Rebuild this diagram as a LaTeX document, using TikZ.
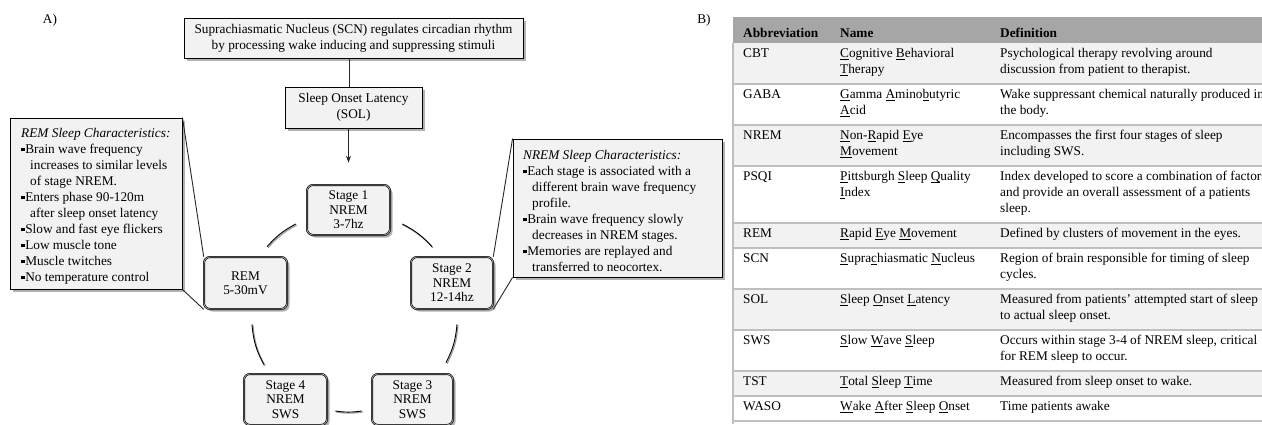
\documentclass[tikz,border=0pt]{standalone}
\usepackage{fontspec}
\setmainfont{Liberation Serif}
\usetikzlibrary{shadows,arrows.meta,calc}
\definecolor{boxfill}{HTML}{F2F2F2}
\definecolor{hdrfill}{HTML}{A6A6A6}
\definecolor{sepgray}{HTML}{BFBFBF}
\newcommand\fsz{\fontsize{13.3}{16}\selectfont}
\newcommand\fst{\fontsize{13.3}{14.5}\selectfont}
\newcommand\ulc[1]{\leavevmode\setbox0\hbox{#1}\rlap{\rule[-2.8pt]{\wd0}{1.3pt}}\box0\relax}
\newcommand\bul{\raisebox{2.3pt}{\rule{3.3pt}{3.3pt}}\hspace{0.8pt}}
\newcommand\ind{\hspace*{9pt}}
\tikzset{
  sqbox/.style={draw=black, line width=0.9pt, fill=boxfill, inner sep=0pt, align=center, font=\fsz,
     drop shadow={shadow xshift=2.5pt, shadow yshift=-2.5pt, fill=black!60}},
  stagebox/.style={draw=black, line width=0.6pt, double=black!35, double distance=0.8pt, fill=boxfill,
     rounded corners=6pt, inner sep=0pt, align=center, font=\fst,
     drop shadow={shadow xshift=2.5pt, shadow yshift=-2.5pt, fill=black!60}},
  txt/.style={anchor=north west, inner sep=0pt, align=left, font=\fsz},
  lbl/.style={inner sep=0pt, font=\fsz},
  link/.style={draw=black!85, line width=0.9pt},
  cyc/.style={draw=black, line width=0.9pt, preaction={draw=black!40, line width=1.2pt, transform canvas={shift={(1pt,-1pt)}}}},
}
\begin{document}
\begin{tikzpicture}[x=1pt,y=-1pt]
\useasboundingbox (0,0) rectangle (1262,424);
\begin{scope}
\clip (0,0) rectangle (1262,424);
% labels
\node[lbl] (labA) at (50,20) {A)};
\node[lbl] (labB) at (704,20) {B)};
% flow
\node[sqbox, minimum width=339pt, minimum height=40pt] (scn) at (353.5,38) {Suprachiasmatic Nucleus (SCN) regulates circadian rhythm\\by processing wake inducing and suppressing stimuli};
\node[sqbox, minimum width=137pt, minimum height=41pt] (sol) at (353.5,107.5) {Sleep Onset Latency\\(SOL)};
\draw[link] (scn.south -| 349.5,0) -- (sol.north -| 349.5,0);
% callout boxes
\node[sqbox, minimum width=172pt, minimum height=171pt] (remc) at (96,203.5) {};
\node[sqbox, minimum width=209pt, minimum height=138pt] (nremc) at (617.5,208) {};
% stages
\node[stagebox, minimum width=83pt, minimum height=50pt] (s1) at (348.5,210) {Stage 1\\NREM\\3-7hz};
\node[stagebox, minimum width=83pt, minimum height=52pt] (rem) at (245.5,283) {REM\\5-30mV};
\node[stagebox, minimum width=82pt, minimum height=52pt] (s2) at (452,283) {Stage 2\\NREM\\12-14hz};
\node[stagebox, minimum width=83pt, minimum height=51pt] (s4) at (285.5,399.5) {Stage 4\\NREM\\SWS};
\node[stagebox, minimum width=81pt, minimum height=51pt] (s3) at (412.5,399.5) {Stage 3\\NREM\\SWS};
\draw[link, -{Stealth[length=7pt,width=5pt]}] (sol.south -| s1) -- ($(s1.north)+(0,-22)$);
% cycle arcs
\draw[cyc] ($(s1.west)+(-11,14)$) to[bend right=10] ($(rem.north)+(21.5,-10)$);
\draw[cyc] ($(rem.south)+(6.5,15)$) to[bend right=12] ($(s4.north)+(-21.5,-9)$);
\draw[cyc] ($(s4.east)+(8,11.5)$) to[bend right=8] ($(s3.west)+(-10,11.5)$);
\draw[cyc] ($(s3.north)+(33.5,-11)$) to[bend right=11] ($(s2.south)+(5,15)$);
\draw[cyc] ($(s2.north)+(-20,-10)$) to[bend right=10] ($(s1.east)+(12,14)$);
% callout pointers
\draw[link] (remc.north east) -- (rem.north west);
\draw[link] (remc.south east) -- (rem.south west);
\draw[link] (nremc.north west) -- (s2.north east);
\draw[link] (nremc.south west) -- (s2.south east);
% callout texts
\node[txt] (remt) at (21,126.3) {\strut\textit{REM Sleep Characteristics:}\\\bul Brain wave frequency\\\ind increases to similar levels\\\ind of stage NREM.\\\bul Enters phase 90-120m\\\ind after sleep onset latency\\\bul Slow and fast eye flickers\\\bul Low muscle tone\\\bul Muscle twitches\\\bul No temperature control};
\node[txt] (nremt) at (523,148.3) {\strut\textit{NREM Sleep Characteristics:}\\\bul Each stage is associated with a\\\ind different brain wave frequency\\\ind profile.\\\bul Brain wave frequency slowly\\\ind decreases in NREM stages.\\\bul Memories are replayed and\\\ind transferred to neocortex.};
% table backgrounds
\fill[hdrfill] (733,17) rectangle (1262,43);
\foreach \a/\b in {43/84,125/166,223/248,289/330,371/396}
  \fill[boxfill] (733,\a) rectangle (1262,\b);
\foreach \y in {84,125,166,223,248,289,330,371,396,421}
  \draw[sepgray, line width=1.6pt] (733,\y) -- (1262,\y);
\draw[sepgray, line width=1.2pt] (733,43) -- (733,424);
% table text
\node[txt] (hA) at (743,25.8) {\strut\textbf{Abbreviation}};
\node[txt] (hN) at (840,25.8) {\strut\textbf{Name}};
\node[txt] (hD) at (1000,25.8) {\strut\textbf{Definition}};
\node[txt] (cbtA) at (743,45.8) {\strut CBT};
\node[txt] (cbtN) at (840,45.8) {\strut\ulc{C}ognitive \ulc{B}ehavioral\\\ulc{T}herapy};
\node[txt] (cbtD) at (1000,45.8) {\strut Psychological therapy revolving around\\discussion from patient to therapist.};
\node[txt] (gabaA) at (743,86.8) {\strut GABA};
\node[txt] (gabaN) at (840,86.8) {\strut\ulc{G}amma \ulc{A}mino\ulc{b}utyric\\\ulc{A}cid};
\node[txt] (gabaD) at (1000,86.8) {\strut Wake suppressant chemical naturally produced in\\the body.};
\node[txt] (nremA) at (743,127.8) {\strut NREM};
\node[txt] (nremN) at (840,127.8) {\strut\ulc{N}on-\ulc{R}apid \ulc{E}ye\\\ulc{M}ovement};
\node[txt] (nremD) at (1000,127.8) {\strut Encompasses the first four stages of sleep\\including SWS.};
\node[txt] (psqiA) at (743,168.8) {\strut PSQI};
\node[txt] (psqiN) at (840,168.8) {\strut\ulc{P}ittsburgh \ulc{S}leep \ulc{Q}uality\\\ulc{I}ndex};
\node[txt] (psqiD) at (1000,168.8) {\strut Index developed to score a combination of factors\\and provide an overall assessment of a patients\\sleep.};
\node[txt] (remA) at (743,225.8) {\strut REM};
\node[txt] (remN) at (840,225.8) {\strut\ulc{R}apid \ulc{E}ye \ulc{M}ovement};
\node[txt] (remD) at (1000,225.8) {\strut Defined by clusters of movement in the eyes.};
\node[txt] (scnA) at (743,250.8) {\strut SCN};
\node[txt] (scnN) at (840,250.8) {\strut\ulc{S}upra\ulc{c}hiasmatic \ulc{N}ucleus};
\node[txt] (scnD) at (1000,250.8) {\strut Region of brain responsible for timing of sleep\\cycles.};
\node[txt] (solA) at (743,291.8) {\strut SOL};
\node[txt] (solN) at (840,291.8) {\strut\ulc{S}leep \ulc{O}nset \ulc{L}atency};
\node[txt] (solD) at (1000,291.8) {\strut Measured from patients’ attempted start of sleep\\to actual sleep onset.};
\node[txt] (swsA) at (743,332.8) {\strut SWS};
\node[txt] (swsN) at (840,332.8) {\strut\ulc{S}low \ulc{W}ave \ulc{S}leep};
\node[txt] (swsD) at (1000,332.8) {\strut Occurs within stage 3-4 of NREM sleep, critical\\for REM sleep to occur.};
\node[txt] (tstA) at (743,373.8) {\strut TST};
\node[txt] (tstN) at (840,373.8) {\strut\ulc{T}otal \ulc{S}leep \ulc{T}ime};
\node[txt] (tstD) at (1000,373.8) {\strut Measured from sleep onset to wake.};
\node[txt] (wasoA) at (743,398.8) {\strut WASO};
\node[txt] (wasoN) at (840,398.8) {\strut\ulc{W}ake \ulc{A}fter \ulc{S}leep \ulc{O}nset};
\node[txt] (wasoD) at (1000,398.8) {\strut Time patients awake};
\end{scope}
\end{tikzpicture}
\end{document}
